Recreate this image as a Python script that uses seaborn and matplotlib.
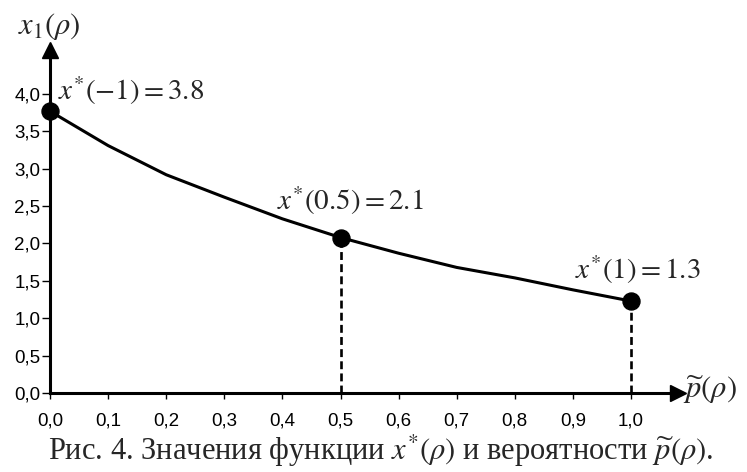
import pandas as pd
import seaborn as sns
import matplotlib.pyplot as plt

# Values
p_vals = [0.0, 0.1, 0.2, 0.3, 0.4, 0.5, 0.6, 0.7, 0.8, 0.9, 1.0]
x_vals = [3.77, 3.31, 2.92, 2.62, 2.33, 2.08, 1.87, 1.68, 1.54, 1.38, 1.23]
marked_p = [0.0, 0.5, 1.0]
marked_x = [3.77, 2.08, 1.23]
marked_labels = [r'$x^{*}(-1)=3.8$', r'$x^{*}(0.5)=2.1$', r'$x^{*}(1)=1.3$']
x_ticks = [0.0, 0.1, 0.2, 0.3, 0.4, 0.5, 0.6, 0.7, 0.8, 0.9, 1.0]
y_ticks = [0.0, 0.5, 1.0, 1.5, 2.0, 2.5, 3.0, 3.5, 4.0]
caption = r'Рис. 4. Значения функции $x^{*}(\rho)$ и вероятности $\widetilde{p}(\rho)$.'

sns.set_style("white")
plt.rcParams['font.family'] = ['Liberation Sans', 'DejaVu Sans']
plt.rcParams['mathtext.fontset'] = 'stix'

curve = pd.DataFrame({'p': p_vals, 'x': x_vals})
marks = pd.DataFrame({'p': marked_p, 'x': marked_x})

fig = plt.figure(figsize=(7.47, 4.72), dpi=100)
ax = fig.add_axes([50 / 747, 79 / 472, 628 / 747, 343 / 472])

# curve and marked points
sns.lineplot(data=curve, x='p', y='x', color='black', linewidth=2.2, ax=ax)
ax.vlines(marked_p[1:], 0, marked_x[1:], colors='black', linestyles=(0, (3, 1.6)), linewidth=1.9)
sns.scatterplot(data=marks, x='p', y='x', color='black', s=150, edgecolor='black',
                zorder=5, clip_on=False, ax=ax)

# annotations
offsets = [(0.014, 3.92), (0.391, 2.45), (0.904, 1.53)]
for (tx, ty), lab in zip(offsets, marked_labels):
    ax.text(tx, ty, lab, fontsize=21, ha='left', va='baseline')

ax.set_xlim(0, 628 / 581)
ax.set_ylim(0, 343 / 74.75)

# axes with arrows
for side in ['top', 'right']:
    ax.spines[side].set_visible(False)
for side in ['left', 'bottom']:
    ax.spines[side].set_linewidth(2.2)
    ax.spines[side].set_color('black')
ax.plot(1, 0, '>k', markersize=11, transform=ax.get_yaxis_transform(), clip_on=False)
ax.plot(0, 1, '^k', markersize=11, transform=ax.get_xaxis_transform(), clip_on=False)

ax.set_xticks(x_ticks)
ax.set_xticklabels([f'{t:.1f}'.replace('.', ',') for t in x_ticks])
ax.set_yticks(y_ticks)
ax.set_yticklabels([f'{t:.1f}'.replace('.', ',') for t in y_ticks])
ax.tick_params(axis='x', bottom=True, direction='out', length=4, width=1, pad=10,
               labelsize=13.5, colors='black')
ax.tick_params(axis='y', left=True, direction='out', length=6, width=1, pad=1,
               labelsize=13.5, colors='black')
ax.set_xlabel('')
ax.set_ylabel('')

# axis titles
fig.text(49 / 747, 1 - 27 / 472, r'$x_{1}(\rho)$', fontsize=22, ha='center', va='center')
fig.text(683 / 747, 1 - 390 / 472, r'$\widetilde{p}(\rho)$', fontsize=22, ha='left', va='center')

fig.text(0.51, 12 / 472, caption, fontsize=22, family='Liberation Serif', ha='center', va='baseline')

fig.savefig('out.png', dpi=100)
